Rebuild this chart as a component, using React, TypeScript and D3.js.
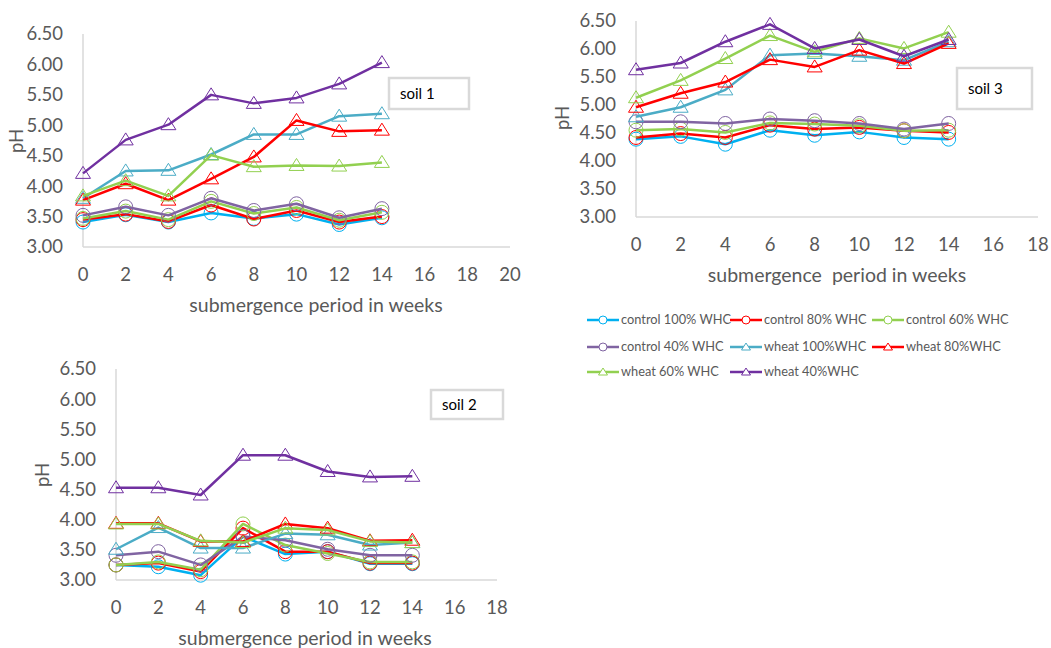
import * as d3 from 'd3';

// weeks of submergence
const weeks = [0, 2, 4, 6, 8, 10, 12, 14];

const seriesNames = [
  'control 100% WHC',
  'control 80% WHC',
  'control 60% WHC',
  'control 40% WHC',
  'wheat 100%WHC',
  'wheat 80%WHC',
  'wheat 60% WHC',
  'wheat 40%WHC',
];
const seriesColors = ['#00B0F0', '#FF0000', '#92D050', '#8064A2', '#4BACC6', '#FF0000', '#92D050', '#7030A0'];
const seriesMarker = ['circle', 'circle', 'circle', 'circle', 'triangle', 'triangle', 'triangle', 'triangle'];

// pH, one row per series (same order as seriesNames)
const soil1 = [
  [3.41, 3.53, 3.41, 3.56, 3.47, 3.54, 3.37, 3.48],
  [3.45, 3.54, 3.42, 3.69, 3.46, 3.6, 3.41, 3.5],
  [3.47, 3.59, 3.45, 3.75, 3.55, 3.65, 3.44, 3.57],
  [3.52, 3.66, 3.52, 3.8, 3.6, 3.71, 3.48, 3.63],
  [3.8, 4.25, 4.26, 4.52, 4.85, 4.85, 5.15, 5.19],
  [3.77, 4.04, 3.77, 4.12, 4.48, 5.08, 4.9, 4.92],
  [3.84, 4.09, 3.84, 4.51, 4.32, 4.34, 4.33, 4.39],
  [4.21, 4.76, 5.01, 5.5, 5.36, 5.45, 5.68, 6.03],
];

const soil2 = [
  [3.25, 3.22, 3.08, 3.72, 3.43, 3.47, 3.27, 3.27],
  [3.25, 3.28, 3.14, 3.86, 3.47, 3.47, 3.28, 3.28],
  [3.25, 3.3, 3.17, 3.93, 3.58, 3.44, 3.3, 3.3],
  [3.41, 3.47, 3.25, 3.72, 3.66, 3.51, 3.41, 3.41],
  [3.51, 3.87, 3.53, 3.53, 3.77, 3.75, 3.58, 3.62],
  [3.94, 3.94, 3.64, 3.64, 3.93, 3.86, 3.65, 3.66],
  [3.93, 3.93, 3.65, 3.62, 3.86, 3.83, 3.64, 3.62],
  [4.53, 4.53, 4.41, 5.07, 5.07, 4.8, 4.71, 4.72],
];

const soil3 = [
  [4.39, 4.44, 4.3, 4.55, 4.46, 4.52, 4.42, 4.39],
  [4.42, 4.49, 4.42, 4.64, 4.57, 4.6, 4.54, 4.51],
  [4.55, 4.57, 4.51, 4.68, 4.66, 4.63, 4.54, 4.55],
  [4.7, 4.7, 4.67, 4.75, 4.72, 4.67, 4.57, 4.67],
  [4.79, 4.96, 5.27, 5.89, 5.92, 5.87, 5.8, 6.13],
  [4.96, 5.21, 5.41, 5.81, 5.68, 5.98, 5.74, 6.1],
  [5.13, 5.44, 5.83, 6.24, 5.95, 6.19, 6.01, 6.3],
  [5.63, 5.75, 6.13, 6.44, 6.01, 6.17, 5.87, 6.17],
];

const yTicks = [3, 3.5, 4, 4.5, 5, 5.5, 6, 6.5];

const FONT = 'Lato, "Open Sans", sans-serif';
const GREY = '#595959';
const AXIS = '#D9D9D9';

const TRI = 'M0,-7L7.5,5L-7.5,5Z';

interface PanelProps {
  data: number[][];
  x0: number; x1: number; xMax: number;
  yTop: number; yBottom: number;
  title: string; titleX: number;
  phX: number; phY: number;
  label: string; box: [number, number, number, number];
}

function Panel({ data, x0, x1, xMax, yTop, yBottom, title, titleX, phX, phY, label, box }: PanelProps) {
  const x = d3.scaleLinear().domain([0, xMax]).range([x0, x1]);
  const y = d3.scaleLinear().domain([3, 6.5]).range([yBottom, yTop]);
  const line = d3.line<number>().x((_, i) => x(weeks[i])).y(d => y(d));
  const xTicks = d3.range(0, xMax + 1, 2);

  return (
    <g>
      <line x1={x0} x2={x0} y1={yTop} y2={yBottom} stroke={AXIS} strokeWidth={1.5} />
      <line x1={x0} x2={x1} y1={yBottom} y2={yBottom} stroke={AXIS} strokeWidth={1.5} />
      {yTicks.map(t => (
        <text key={t} x={x0 - 20} y={y(t)} dy="0.35em" textAnchor="end" fill={GREY}
          fontSize={18.5} fontFamily={FONT}>{t.toFixed(2)}</text>
      ))}
      {xTicks.map(t => (
        <text key={t} x={x(t)} y={yBottom + 28} dy="0.35em" textAnchor="middle" fill={GREY}
          fontSize={18.5} fontFamily={FONT}>{t}</text>
      ))}
      <text x={titleX} y={yBottom + 58} dy="0.35em" textAnchor="middle" fill={GREY}
        fontSize={19.5} fontFamily={FONT} style={{ whiteSpace: 'pre' }}>{title}</text>
      <text transform={`translate(${phX},${phY}) rotate(-90)`} dy="0.35em" textAnchor="middle" fill={GREY}
        fontSize={18.5} fontFamily={FONT}>pH</text>
      {data.map((vals, si) => (
        <g key={si}>
          <path d={line(vals) ?? ''} fill="none" stroke={seriesColors[si]} strokeWidth={2.5} strokeLinejoin="round" />
          {vals.map((v, i) =>
            seriesMarker[si] === 'circle' ? (
              <circle key={i} cx={x(weeks[i])} cy={y(v)} r={7} fill="none" stroke={seriesColors[si]} strokeWidth={1} />
            ) : (
              <path key={i} d={TRI} transform={`translate(${x(weeks[i])},${y(v)})`} fill="none"
                stroke={seriesColors[si]} strokeWidth={1} />
            )
          )}
        </g>
      ))}
      <rect x={box[0]} y={box[1]} width={box[2]} height={box[3]} fill="white" stroke={AXIS} strokeWidth={2.5} />
      <text x={box[0] + 11} y={box[1] + box[3] / 2} dy="0.35em" fill="#000" fontSize={15} fontFamily={FONT}>{label}</text>
    </g>
  );
}

function Legend() {
  const cols = [587, 730, 872];
  const rows = [320, 347, 372];
  return (
    <g>
      {seriesNames.map((name, i) => {
        const lx = cols[i % 3];
        const ly = rows[Math.floor(i / 3)];
        const c = seriesColors[i];
        return (
          <g key={name}>
            <line x1={lx} x2={lx + 32} y1={ly} y2={ly} stroke={c} strokeWidth={2.5} />
            {seriesMarker[i] === 'circle' ? (
              <circle cx={lx + 16} cy={ly} r={4} fill="white" stroke={c} strokeWidth={1} />
            ) : (
              <path d="M0,-4L4.5,3L-4.5,3Z" transform={`translate(${lx + 16},${ly})`} fill="white" stroke={c} strokeWidth={1} />
            )}
            <text x={lx + 34} y={ly} dy="0.35em" fill={GREY} fontSize={12.8} fontFamily={FONT}>{name}</text>
          </g>
        );
      })}
    </g>
  );
}

export default function App() {
  return (
    <svg width={1051} height={648} style={{ position: 'absolute', left: 0, top: 0, background: 'white' }}>
      <Panel data={soil1} x0={83} x1={510} xMax={20} yTop={34} yBottom={247}
        title="submergence period in weeks" titleX={316} phX={17} phY={141}
        label="soil 1" box={[389, 78, 80, 31]} />
      <Panel data={soil3} x0={636} x1={1038} xMax={18} yTop={21} yBottom={217}
        title="submergence  period in weeks" titleX={837} phX={563} phY={118}
        label="soil 3" box={[957, 68, 75, 41]} />
      <Panel data={soil2} x0={116} x1={497} xMax={18} yTop={369} yBottom={580}
        title="submergence period in weeks" titleX={305} phX={43} phY={475}
        label="soil 2" box={[431, 390, 72, 29]} />
      <Legend />
    </svg>
  );
}
